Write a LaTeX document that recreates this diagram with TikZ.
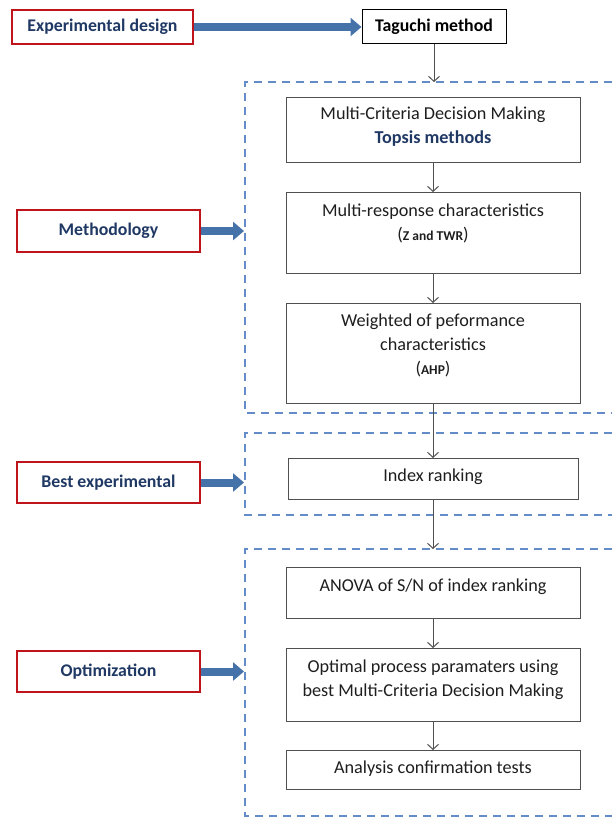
\documentclass[tikz,border=0pt]{standalone}
\usepackage{fontspec}
\setmainfont{Carlito}
\usetikzlibrary{arrows.meta}
\definecolor{labelred}{RGB}{192,20,28}
\definecolor{labelnavy}{RGB}{31,56,100}
\definecolor{frameblue}{RGB}{100,140,200}
\definecolor{arrowblue}{RGB}{70,114,170}
\definecolor{boxgray}{RGB}{80,80,80}
\definecolor{textgray}{RGB}{30,30,30}
\newcommand{\smallbold}[1]{{\fontsize{13.5}{24}\selectfont\bfseries #1}}
\begin{document}
\begin{tikzpicture}[x=1pt,y=-1pt,
    every node/.style={font=\fontsize{18.2}{24}\selectfont},
    label box/.style={draw=labelred,line width=2pt,minimum width=183pt,minimum height=41pt,inner sep=0pt,text=labelnavy,font=\fontsize{17.8}{24}\selectfont\bfseries},
    stage/.style={draw=boxgray,line width=1pt,anchor=north,text width=294pt,inner xsep=0pt,inner ysep=0pt,align=flush center,text=textgray},
    frame/.style={draw=frameblue,line width=1.6pt,dash pattern=on 8pt off 6pt},
    block arrow/.style={draw=arrowblue,line width=8pt,-{Triangle[length=11pt,width=18pt]}},
    thin arrow/.style={draw=boxgray,line width=1pt,-{Straight Barb[length=5pt,width=11pt]}}]
    \useasboundingbox (0,0) rectangle (612,818);
    \draw[frame] (612,82) -- (245,82) -- (245,413) -- (612,413);
    \draw[frame] (612,433) -- (245,433) -- (245,515) -- (612,515);
    \draw[frame] (612,549) -- (245,549) -- (245,816) -- (612,816);
    \coordinate (g1top) at (434,82);
    \coordinate (g3top) at (433,549);
    \coordinate (g1in) at (244,231);
    \coordinate (g2in) at (244,482.5);
    \coordinate (g3in) at (244,671.5);
    \node[label box,minimum width=181pt,minimum height=34pt] (expd) at (102.5,27) {Experimental design};
    \node[draw=black,line width=1pt,minimum width=144pt,minimum height=34pt,inner sep=0pt,font=\fontsize{17.8}{24}\selectfont\bfseries] (tag) at (434,27) {Taguchi method};
    \node[label box,minimum height=42pt] (meth) at (108.5,231) {Methodology};
    \node[label box] (best) at (108.5,482.5) {Best experimental};
    \node[label box] (optim) at (108.5,671.5) {Optimization};
    \node[stage,text height=22pt,text depth=43pt] (mcdm) at (433,97) {Multi-Criteria Decision Making\\ {\bfseries\color{labelnavy}Topsis methods}};
    \node[stage,text height=24pt,text depth=57pt] (mrc) at (433,192) {Multi-response characteristics\\ (\smallbold{Z and TWR})};
    \node[stage,text height=23pt,text depth=77pt] (wpc) at (433,303) {Weighted of peformance\\ characteristics\\ (\smallbold{AHP})};
    \node[stage,text width=290pt,text height=23pt,text depth=18pt] (idx) at (433,458) {Index ranking};
    \node[stage,text height=24pt,text depth=27pt] (anova) at (433,567) {ANOVA of S/N of index ranking};
    \node[stage,text height=24pt,text depth=49pt] (opt) at (433,648) {Optimal process paramaters using\\ best Multi-Criteria Decision Making};
    \node[stage,text height=23pt,text depth=16pt] (ana) at (433,750) {Analysis confirmation tests};
    \draw[block arrow] (expd) -- (tag);
    \draw[block arrow] (meth) -- (g1in);
    \draw[block arrow] (best) -- (g2in);
    \draw[block arrow] (optim) -- (g3in);
    \draw[thin arrow] (tag) -- (g1top);
    \draw[thin arrow] (mcdm) -- (mrc);
    \draw[thin arrow] (mrc) -- (wpc);
    \draw[thin arrow] (wpc) -- (idx);
    \draw[thin arrow] (idx) -- (g3top);
    \draw[thin arrow] (anova) -- (opt);
    \draw[thin arrow] (opt) -- (ana);
\end{tikzpicture}
\end{document}
